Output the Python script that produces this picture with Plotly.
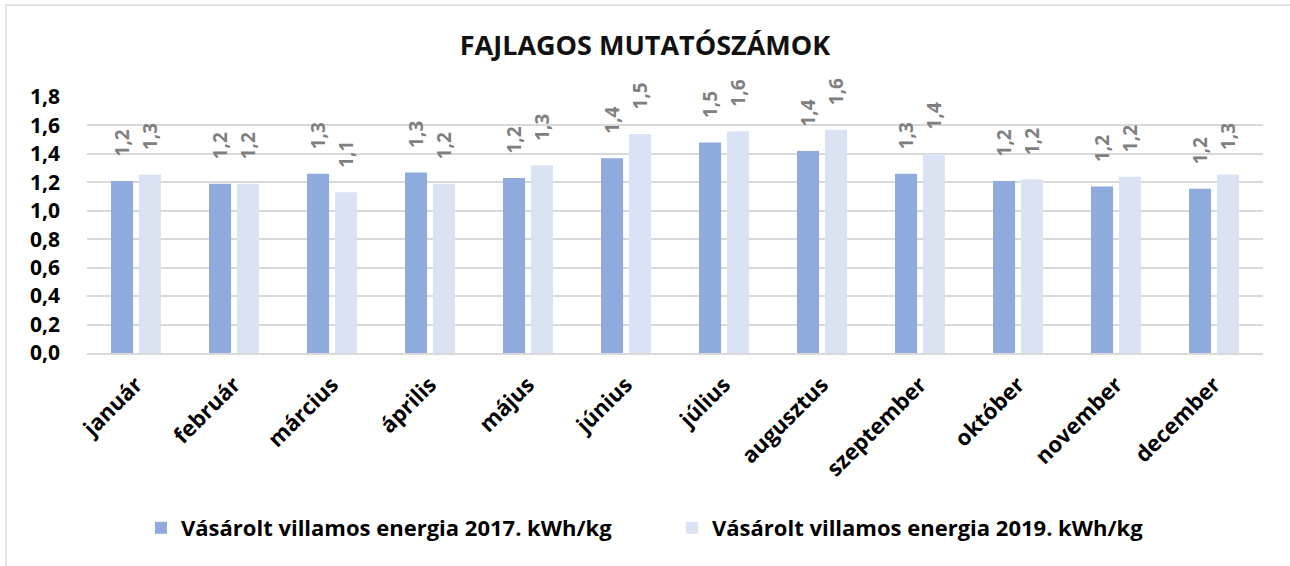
import plotly.graph_objects as go

months = ["január", "február", "március", "április", "május", "június",
          "július", "augusztus", "szeptember", "október", "november", "december"]
series_2017_name = "Vásárolt villamos energia 2017. kWh/kg"
series_2019_name = "Vásárolt villamos energia 2019. kWh/kg"
values_2017 = [1.21, 1.19, 1.26, 1.27, 1.23, 1.37, 1.48, 1.42, 1.26, 1.21, 1.17, 1.155]
values_2019 = [1.255, 1.19, 1.13, 1.19, 1.32, 1.54, 1.56, 1.57, 1.40, 1.22, 1.24, 1.255]
y_ticks = [0.0, 0.2, 0.4, 0.6, 0.8, 1.0, 1.2, 1.4, 1.6, 1.8]
title_text = "FAJLAGOS MUTATÓSZÁMOK"

FONT = "Open Sans"
C17 = "#8faadc"
C19 = "#dae3f3"

W, H = 1290, 566
ML, MR, MT, MB = 87, 27, 97, 213
PW = W - ML - MR
PH = H - MT - MB

fig = go.Figure()
fig.add_trace(go.Bar(x=months, y=values_2017, name=series_2017_name,
                     marker=dict(color=C17, line=dict(width=0))))
fig.add_trace(go.Bar(x=months, y=values_2019, name=series_2019_name,
                     marker=dict(color=C19, line=dict(width=0))))

def fmt(v):
    return f"{int(v * 10 + 0.5 + 1e-9) / 10:.1f}".replace(".", ",")

anns = []
for vals, shift in ((values_2017, -14), (values_2019, 14)):
    for m, v in zip(months, vals):
        anns.append(dict(x=m, y=v, xref="x", yref="y", text=fmt(v),
                         textangle=-90, showarrow=False, xanchor="center",
                         yanchor="bottom", xshift=shift, yshift=22,
                         font=dict(family=FONT, size=19, color="#7f7f7f", weight="bold")))

fig.update_layout(
    width=W, height=H,
    margin=dict(l=ML, r=MR, t=MT, b=MB, pad=0, autoexpand=False),
    paper_bgcolor="white", plot_bgcolor="white",
    separators=", ",
    barmode="group", bargap=0.43, bargroupgap=0.21,
    title=dict(text=title_text, x=0.5, xanchor="center", xref="container",
               y=1 - 46 / H, yanchor="middle", yref="container",
               font=dict(family=FONT, size=27, color="#111111", weight="bold")),
    font=dict(family=FONT, color="#000000"),
    xaxis=dict(tickangle=-45, showgrid=False, showline=True, linecolor="#d9d9d9",
               linewidth=2, ticks="", ticklabelstandoff=8,
               tickfont=dict(family=FONT, size=22, color="#000000", weight="bold")),
    yaxis=dict(range=[0, 1.8], tickvals=y_ticks, tickformat=".1f", showgrid=True,
               gridcolor="#d9d9d9", gridwidth=1.5, zeroline=False, showline=False,
               ticks="", ticklabelstandoff=26,
               tickfont=dict(family=FONT, size=21, color="#000000", weight="bold")),
    showlegend=True,
    legend=dict(orientation="h", x=(141 - ML) / PW, xanchor="left",
                y=(MT + PH - 528) / PH, yanchor="middle",
                entrywidth=486, entrywidthmode="pixels",
                font=dict(family=FONT, size=22, color="#000000", weight="bold"),
                bgcolor="rgba(0,0,0,0)"),
    annotations=anns,
    shapes=[dict(type="rect", xref="paper", yref="paper",
                 x0=(6 - ML) / PW, x1=(W + 10 - ML) / PW,
                 y0=(MT + PH - (H + 10)) / PH, y1=(MT + PH - 5) / PH,
                 line=dict(color="#d9d9d9", width=1.5), fillcolor="rgba(0,0,0,0)",
                 layer="below")],
)

fig.write_html("out.html", config={"displayModeBar": False},
               post_script="document.body.style.margin='0px';document.body.style.overflow='hidden';")
